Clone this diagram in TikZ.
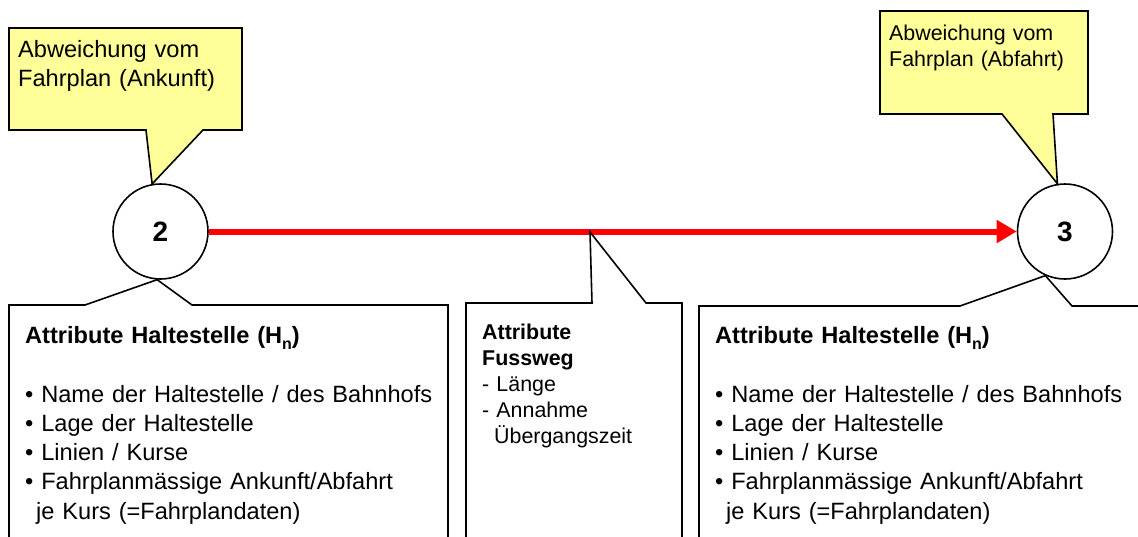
\documentclass[tikz,border=0pt]{standalone}
\usepackage{fontspec}
\setmainfont{Liberation Sans}
\usetikzlibrary{arrows.meta}
\definecolor{noteyellow}{HTML}{FFFF99}
\definecolor{linkred}{HTML}{FF0000}
\begin{document}
\begin{tikzpicture}[x=1pt,y=-1pt,
  outline/.style={draw=black,line width=1.6pt,line join=miter},
  note/.style={outline,fill=noteyellow},
  stop/.style={circle,draw=black,line width=1.6pt,minimum size=95pt,inner sep=0pt,
    font=\fontsize{28}{28}\selectfont\bfseries},
  txt/.style={anchor=base west,inner sep=0pt,align=left,text width=#1},
  txt/.default=420pt,
  big/.style={font=\fontsize{23.6}{29.3}\selectfont},
  small/.style={font=\fontsize{21.4}{26}\selectfont},
  link/.style={draw=linkred,line width=6pt,-{Triangle[length=20pt,width=22pt]}}
]
\useasboundingbox (0,0) rectangle (1138,536);

% stops
\node[stop] (c2) at (160.5,231.5) {2};
\node[stop] (c3) at (1065,231.5) {3};

% walking link between the stops
\draw[link] (c2.east) -- (c3.west);
\coordinate (mid) at (590,232);

% schedule deviation notes
\draw[note] (9,28) -- (242,28) -- (242,130) -- (203,130) -- (c2.100)
  -- (146,130) -- (9,130) -- cycle;
\node[txt,big] (tlnote) at (18,57) {Abweichung vom\\Fahrplan (Ankunft)};

\draw[note] (880,11) -- (1088,11) -- (1088,114) -- (1053,114) -- (c3.99)
  -- (1002,114) -- (880,114) -- cycle;
\node[txt,small] (trnote) at (889,40) {Abweichung vom\\Fahrplan (Abfahrt)};

% attribute boxes
\draw[outline] (9,540) -- (9,305) -- (85,305) -- (c2.266) -- (192,305)
  -- (448,305) -- (448,540);
\draw[outline] (466,540) -- (466,303) -- (592,303) -- (mid) -- (646,303)
  -- (682,303) -- (682,540);
\draw[outline] (699,540) -- (699,306) -- (960,306) -- (c3.246) -- (1072,306)
  -- (1142,306);

\newcommand{\hsub}{(H\raisebox{-6pt}{\fontsize{16}{16}\selectfont n})}
\newcommand{\stopitems}{%
  • Name der Haltestelle / des Bahnhofs\\
  • Lage der Haltestelle\\
  • Linien / Kurse\\
  • Fahrplanmässige Ankunft/Abfahrt\\
  \hspace*{11pt}je Kurs (=Fahrplandaten)}

\node[txt,big] (lhead) at (25,343) {\bfseries Attribute Haltestelle \hsub};
\node[txt,big] (lbody) at (25,402) {\stopitems};

\node[txt=200pt,small] (mbody) at (482,339) {{\bfseries Attribute}\\{\bfseries Fussweg}\\
  - Länge\\- Annahme\\\hspace*{12pt}Übergangszeit};

\node[txt,big] (rhead) at (715,343) {\bfseries Attribute Haltestelle \hsub};
\node[txt,big] (rbody) at (715,402) {\stopitems};
\end{tikzpicture}
\end{document}
